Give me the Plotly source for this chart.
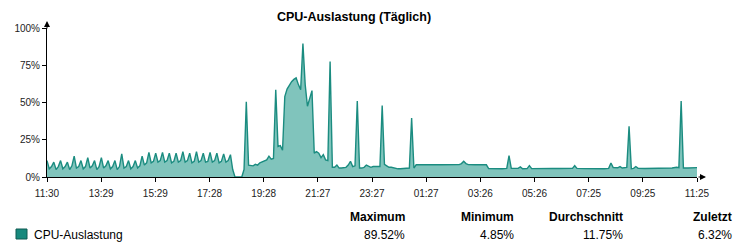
import plotly.graph_objects as go
from datetime import datetime, timedelta

# ---------------- data ----------------
zeit = [
    "11:30", "11:35", "11:40", "11:45", "11:50", "11:55", "12:00", "12:05", "12:10",
    "12:15", "12:20", "12:25", "12:30", "12:35", "12:40", "12:45", "12:50", "12:55",
    "13:00", "13:05", "13:10", "13:15", "13:20", "13:25", "13:30", "13:35", "13:40",
    "13:45", "13:50", "13:55", "14:00", "14:05", "14:10", "14:15", "14:20", "14:25",
    "14:30", "14:35", "14:40", "14:45", "14:50", "14:55", "15:00", "15:05", "15:10",
    "15:15", "15:20", "15:25", "15:30", "15:35", "15:40", "15:45", "15:50", "15:55",
    "16:00", "16:05", "16:10", "16:15", "16:20", "16:25", "16:30", "16:35", "16:40",
    "16:45", "16:50", "16:55", "17:00", "17:05", "17:10", "17:15", "17:20", "17:25",
    "17:30", "17:35", "17:40", "17:45", "17:50", "17:55", "18:00", "18:05", "18:10",
    "18:15", "18:20", "18:25", "18:30", "18:35", "18:40", "18:45", "18:50", "18:55",
    "19:00", "19:05", "19:10", "19:15", "19:20", "19:25", "19:30", "19:35", "19:40",
    "19:45", "19:50", "19:55", "20:00", "20:05", "20:10", "20:15", "20:20", "20:25",
    "20:30", "20:35", "20:40", "20:45", "20:50", "20:55", "21:00", "21:05", "21:10",
    "21:15", "21:20", "21:25", "21:30", "21:35", "21:40", "21:45", "21:50", "21:55",
    "22:00", "22:05", "22:10", "22:15", "22:20", "22:25", "22:30", "22:35", "22:40",
    "22:45", "22:50", "22:55", "23:00", "23:05", "23:10", "23:15", "23:20", "23:25",
    "23:30", "23:35", "23:40", "23:45", "23:50", "23:55", "00:00", "00:05", "00:10",
    "00:15", "00:20", "00:25", "00:30", "00:35", "00:40", "00:45", "00:50", "00:55",
    "01:00", "01:05", "01:15", "01:30", "01:45", "02:00", "02:15", "02:30", "02:40",
    "02:45", "02:50", "02:55", "03:00", "03:15", "03:30", "03:40", "03:45", "03:55",
    "04:05", "04:15", "04:25", "04:30", "04:35", "04:45", "04:50", "04:55", "05:00",
    "05:10", "05:15", "05:20", "05:35", "05:50", "06:05", "06:20", "06:35", "06:50",
    "06:55", "07:00", "07:15", "07:30", "07:45", "08:00", "08:10", "08:15", "08:20",
    "08:25", "08:30", "08:35", "08:40", "08:50", "08:55", "09:00", "09:05", "09:10",
    "09:15", "09:30", "09:45", "10:00", "10:15", "10:30", "10:40", "10:45", "10:50",
    "10:55", "11:05", "11:15", "11:25",
]
cpu = [
    11, 5.5, 7, 10, 5, 7, 11, 5.5, 7,
    10, 5, 7.5, 14, 6, 7, 11, 5.5, 7,
    13, 6, 7.5, 11, 5, 7, 13, 6, 7.5,
    11, 5.5, 7, 11, 5, 7, 15.5, 6, 7,
    11, 5.5, 7, 11, 6, 7.5, 14, 8, 9.5,
    16.5, 9.5, 10.5, 16, 10, 11, 16.5, 10, 11,
    16, 9.5, 10.5, 16, 10, 11, 17, 10, 11,
    16, 9.5, 10.5, 17, 10, 11, 16, 10, 10.5,
    16.5, 10, 11, 16, 9.5, 10.5, 15.5, 10, 11,
    15, 5, 0, 0, 0, 0, 5, 50.5, 8,
    8, 7.5, 8.5, 8, 9.5, 10, 11, 11.5, 14,
    12, 12.5, 58.5, 20.5, 21, 18, 54, 59, 62,
    64, 65.5, 66.5, 62, 58.5, 89.5, 62, 47.5, 52,
    58, 16, 17, 16, 13, 15, 11.5, 11, 77.5,
    6.5, 6.5, 8, 6, 6, 6.5, 6.5, 8, 10.5,
    7, 7.5, 51, 6, 6, 6.5, 8, 7.5, 6.5,
    7, 7, 6.5, 7, 48, 8.5, 7.5, 6.5, 6.5,
    6, 6, 5.5, 5.5, 5.5, 5.5, 5.5, 6, 39.5,
    6, 8.2, 8.3, 8.2, 8.3, 8.2, 8.3, 8.2, 8.3,
    9, 10.5, 9, 8.3, 8.2, 8.3, 8.2, 5.6, 5.5,
    5.4, 5.5, 5.8, 14.3, 5.8, 5.5, 5.8, 6.8, 5.5,
    5.6, 7.6, 5.6, 5.8, 5.7, 5.8, 5.7, 5.6, 5.8,
    7.6, 5.8, 5.6, 5.5, 5.6, 5.5, 5.8, 9.4, 6.3,
    6.5, 6.2, 7, 6, 6.5, 34, 5.6, 5.8, 7,
    5.8, 5.7, 5.8, 5.7, 5.8, 6, 6.5, 6.3, 51,
    6, 6, 6.1, 6.32,
]
tick_labels = ["11:30", "13:29", "15:29", "17:28", "19:28", "21:27", "23:27",
               "01:27", "03:26", "05:26", "07:25", "09:25", "11:25"]
y_ticks = [0, 25, 50, 75, 100]
stat_labels = ["Maximum", "Minimum", "Durchschnitt", "Zuletzt"]
stat_values = ["89.52%", "4.85%", "11.75%", "6.32%"]
series_name = "CPU-Auslastung"
title_text = "CPU-Auslastung (Täglich)"

# ---------------- helpers ----------------
base = datetime(2024, 1, 1)


def to_dt(s):
    h, m = map(int, s.split(":"))
    d = base + timedelta(hours=h, minutes=m)
    if (h, m) < (11, 30):
        d += timedelta(days=1)
    return d


xs = [to_dt(t) for t in zeit]
x_start = base + timedelta(hours=11, minutes=30)
x_end = base + timedelta(days=1, hours=11, minutes=25)
span = (x_end - x_start) / (len(tick_labels) - 1)
tick_vals = [x_start + i * span for i in range(len(tick_labels))]

FONT = "Arial, 'Liberation Sans', sans-serif"
LINE_C = "#1b8c80"
FILL_C = "#80c4bc"

# plot-area geometry (px)
L, R, T, B = 47, 50, 28, 73
W, H = 747, 250
PW = W - L - R
PH = H - T - B


def px_x(px):
    return (px - L) / PW


def px_y(py):
    return (H - B - py) / PH


fig = go.Figure()
fig.add_trace(go.Scatter(
    x=xs, y=cpu, mode="lines", name=series_name,
    line=dict(color=LINE_C, width=1.4),
    fill="tozeroy", fillcolor=FILL_C,
    showlegend=False, hoverinfo="x+y",
))

annotations = []
# axis arrows
annotations.append(dict(xref="paper", yref="paper", x=0, y=px_y(21), ax=0, ay=9,
                        showarrow=True, arrowhead=2, arrowsize=1.2, arrowwidth=1,
                        arrowcolor="#000", text=""))
annotations.append(dict(xref="paper", yref="paper", x=px_x(706), y=0, ax=-9, ay=0,
                        showarrow=True, arrowhead=2, arrowsize=1.2, arrowwidth=1,
                        arrowcolor="#000", text=""))
# stats table
stat_right = [407, 516, 625, 734]
for lab, val, xr in zip(stat_labels, stat_values, stat_right):
    annotations.append(dict(xref="paper", yref="paper", x=px_x(xr), y=px_y(216.5),
                            xanchor="right", yanchor="middle", showarrow=False,
                            text="<b>" + lab + "</b>",
                            font=dict(family=FONT, size=12, color="#000")))
    annotations.append(dict(xref="paper", yref="paper", x=px_x(xr), y=px_y(235),
                            xanchor="right", yanchor="middle", showarrow=False,
                            text=val, font=dict(family=FONT, size=12, color="#000")))
# legend text
annotations.append(dict(xref="paper", yref="paper", x=px_x(32), y=px_y(235),
                        xanchor="left", yanchor="middle", showarrow=False,
                        text=series_name, font=dict(family=FONT, size=12, color="#000")))

shapes = [dict(type="rect", xref="paper", yref="paper",
               x0=px_x(16), x1=px_x(27), y0=px_y(239), y1=px_y(229),
               fillcolor="#17897d", line=dict(color="#0e5a52", width=1))]

fig.update_layout(
    width=W, height=H,
    margin=dict(l=L, r=R, t=T, b=B, pad=0),
    paper_bgcolor="white", plot_bgcolor="white",
    font=dict(family=FONT, size=10, color="#222"),
    title=dict(text="<b>" + title_text + "</b>", x=354 / W, xref="container",
               xanchor="center", y=1 - 17 / H, yref="container", yanchor="middle",
               font=dict(family=FONT, size=12.5, color="#000")),
    xaxis=dict(type="date", range=[x_start, x_end], tickvals=tick_vals,
               ticktext=tick_labels, showgrid=False, zeroline=False,
               showline=True, linecolor="#000", linewidth=1,
               ticks="outside", ticklen=4, tickcolor="#000",
               ticklabelstandoff=3,
               tickfont=dict(family=FONT, size=10, color="#222")),
    yaxis=dict(range=[0, 100], tickvals=y_ticks,
               ticktext=[f"{v}%" for v in y_ticks], showgrid=False, zeroline=False,
               showline=True, linecolor="#000", linewidth=1,
               ticks="outside", ticklen=4, tickcolor="#000",
               tickfont=dict(family=FONT, size=10, color="#222")),
    annotations=annotations,
    shapes=shapes,
    showlegend=False,
)

fig.write_html("out.html")
